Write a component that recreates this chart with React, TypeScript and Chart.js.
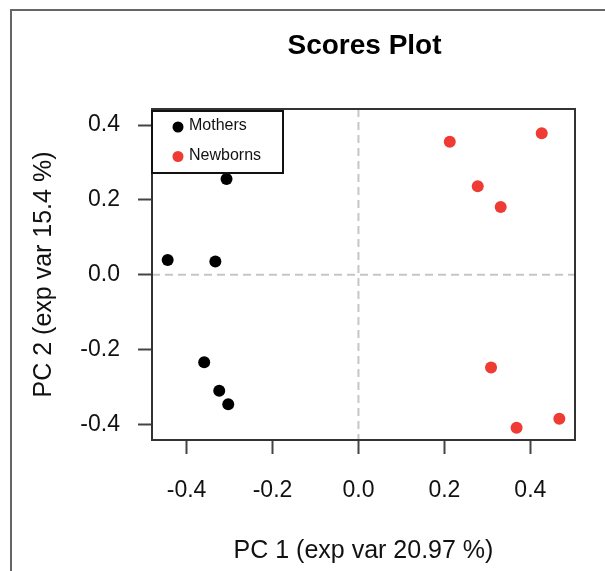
import React, { useEffect, useRef } from "react";
import { Chart, registerables } from "chart.js";

Chart.register(...registerables);

// ---- data ----
const seriesNames = ["Mothers", "Newborns"];
const mothersX = [-0.307, -0.444, -0.333, -0.359, -0.324, -0.303, -0.245];
const mothersY = [0.256, 0.04, 0.036, -0.233, -0.309, -0.345, 0.41];
const newbornsX = [0.2125, 0.4265, 0.2776, 0.331, 0.3086, 0.368, 0.4675];
const newbornsY = [0.355, 0.378, 0.2365, 0.181, -0.247, -0.408, -0.384];
const xTickValues = [-0.4, -0.2, 0, 0.2, 0.4];
const yTickValues = [-0.4, -0.2, 0, 0.2, 0.4];
const titleText = "Scores Plot";
const xTitleText = "PC 1 (exp var 20.97 %)";
const yTitleText = "PC 2 (exp var 15.4 %)";

const FONT = "'Liberation Sans', Arial, Helvetica, sans-serif";
const RED = "#ee3b33";
const BLACK = "#000000";

// R-style 4% range expansion
function expand(values: number[]): [number, number] {
  const lo = Math.min(...values);
  const hi = Math.max(...values);
  const pad = (hi - lo) * 0.04;
  return [lo - pad, hi + pad];
}

const decorPlugin = {
  id: "decor",
  beforeDatasetsDraw(chart: any) {
    const { ctx, chartArea: a, scales } = chart;
    const x0 = scales.x.getPixelForValue(0);
    const y0 = scales.y.getPixelForValue(0);
    ctx.save();
    ctx.strokeStyle = "#c6c6c6";
    ctx.lineWidth = 2;
    ctx.setLineDash([8, 5]);
    ctx.beginPath();
    ctx.moveTo(x0, a.top);
    ctx.lineTo(x0, a.bottom);
    ctx.moveTo(a.left, y0);
    ctx.lineTo(a.right, y0);
    ctx.stroke();
    ctx.restore();
  },
  afterDatasetsDraw(chart: any) {
    const { ctx, chartArea: a, width, height } = chart;
    ctx.save();

    // plot box
    ctx.strokeStyle = "#333333";
    ctx.lineWidth = 2;
    ctx.strokeRect(a.left, a.top, a.right - a.left, a.bottom - a.top);

    // legend
    const lx = a.left;
    const ly = a.top + 2;
    const lw = 131;
    const lh = 62;
    ctx.fillStyle = "#ffffff";
    ctx.fillRect(lx, ly, lw, lh);
    ctx.strokeStyle = "#111111";
    ctx.lineWidth = 2;
    ctx.strokeRect(lx, ly, lw, lh);
    const colors = [BLACK, RED];
    seriesNames.forEach((name, i) => {
      const cy = ly + 16 + i * 29.5;
      ctx.fillStyle = colors[i];
      ctx.beginPath();
      ctx.arc(lx + 26, cy, 5.5, 0, Math.PI * 2);
      ctx.fill();
      ctx.fillStyle = "#111111";
      ctx.font = `16px ${FONT}`;
      ctx.textAlign = "left";
      ctx.textBaseline = "middle";
      ctx.fillText(name, lx + 37, cy - 1);
    });

    // titles
    const cx = (a.left + a.right) / 2;
    const cyPlot = (a.top + a.bottom) / 2;
    ctx.fillStyle = "#000000";
    ctx.textAlign = "center";
    ctx.textBaseline = "middle";
    ctx.font = `bold 28px ${FONT}`;
    ctx.fillText(titleText, cx + 1, 46);
    ctx.fillStyle = "#111111";
    ctx.font = `25px ${FONT}`;
    ctx.fillText(xTitleText, cx, 551);
    ctx.save();
    ctx.translate(44, cyPlot);
    ctx.rotate(-Math.PI / 2);
    ctx.fillText(yTitleText, 0, 0);
    ctx.restore();

    // outer frame (left and top edges)
    ctx.strokeStyle = "#666666";
    ctx.lineWidth = 2;
    ctx.beginPath();
    ctx.moveTo(11, height);
    ctx.lineTo(11, 10);
    ctx.lineTo(width, 10);
    ctx.stroke();

    ctx.restore();
  },
};

export default function App() {
  const canvasRef = useRef<HTMLCanvasElement | null>(null);

  useEffect(() => {
    const canvas = canvasRef.current;
    if (!canvas) return;
    const [xMin, xMax] = expand([...mothersX, ...newbornsX]);
    const [yMin, yMax] = expand([...mothersY, ...newbornsY]);

    const tickCommon = {
      color: "#111111",
      font: { family: FONT, size: 23 },
      callback: (v: any) => Number(v).toFixed(1),
    };
    const gridCommon = {
      display: true,
      drawOnChartArea: false,
      drawTicks: true,
      tickLength: 14,
      tickWidth: 2,
      tickColor: "#444444",
    };

    const chart = new Chart(canvas, {
      type: "scatter",
      data: {
        datasets: [
          {
            label: seriesNames[0],
            data: mothersX.map((x, i) => ({ x, y: mothersY[i] })),
            backgroundColor: BLACK,
            borderColor: BLACK,
            pointRadius: 6,
            pointBorderWidth: 0,
          },
          {
            label: seriesNames[1],
            data: newbornsX.map((x, i) => ({ x, y: newbornsY[i] })),
            backgroundColor: RED,
            borderColor: RED,
            pointRadius: 6,
            pointBorderWidth: 0,
          },
        ],
      },
      options: {
        animation: false,
        responsive: false,
        maintainAspectRatio: false,
        devicePixelRatio: 1,
        layout: { padding: { left: 0, right: 30, top: 109, bottom: 0 } },
        plugins: {
          legend: { display: false },
          title: { display: false },
          tooltip: { enabled: false },
        },
        scales: {
          x: {
            type: "linear",
            min: xMin,
            max: xMax,
            border: { display: false },
            grid: gridCommon,
            ticks: { ...tickCommon, padding: 23, maxRotation: 0, autoSkip: false },
            afterBuildTicks: (scale: any) => {
              scale.ticks = xTickValues.map((value) => ({ value }));
            },
            afterFit: (scale: any) => {
              scale.height = 131;
            },
          },
          y: {
            type: "linear",
            min: yMin,
            max: yMax,
            border: { display: false },
            grid: gridCommon,
            ticks: { ...tickCommon, padding: 18, autoSkip: false },
            afterBuildTicks: (scale: any) => {
              scale.ticks = yTickValues.map((value) => ({ value }));
            },
            afterFit: (scale: any) => {
              scale.width = 152;
            },
          },
        },
      },
      plugins: [decorPlugin],
    });

    return () => chart.destroy();
  }, []);

  return (
    <div style={{ position: "absolute", left: 0, top: 0, width: 605, height: 571, background: "#ffffff" }}>
      <canvas ref={canvasRef} width={605} height={571} style={{ width: 605, height: 571, display: "block" }} />
    </div>
  );
}
